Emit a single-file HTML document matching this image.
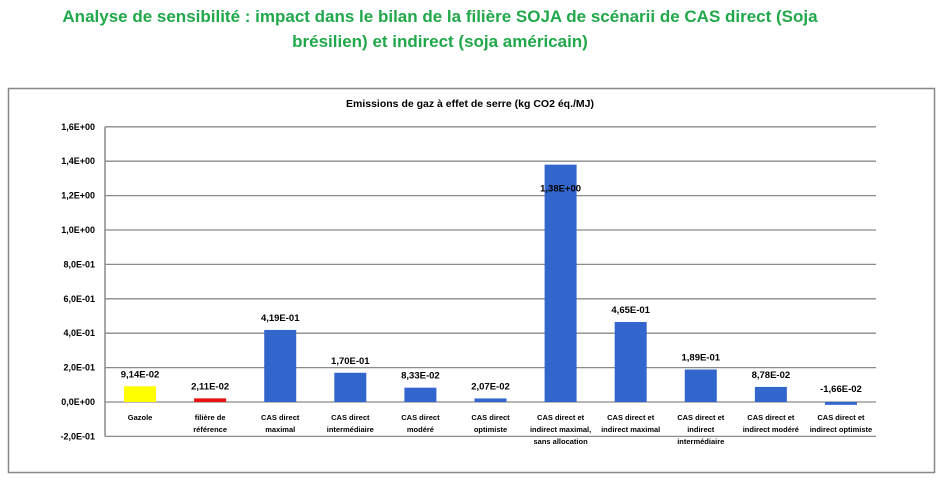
<!DOCTYPE html>
<html><head><meta charset="utf-8"><style>
body{margin:0;background:#fff;width:946px;height:486px;overflow:hidden;font-family:"Liberation Sans",sans-serif}
h1{position:absolute;left:0;top:4px;width:880px;margin:0;text-align:center;color:#21a84a;font-size:17px;font-weight:bold;line-height:25px}
</style></head><body>
<h1>Analyse de sensibilité : impact dans le bilan de la filière SOJA de scénarii de CAS direct (Soja<br>brésilien) et indirect (soja américain)</h1>
<svg id="c" width="946" height="486" style="position:absolute;left:0;top:0"></svg>
<script>
const categories=[["Gazole"],["filière de","référence"],["CAS direct","maximal"],["CAS direct","intermédiaire"],["CAS direct","modéré"],["CAS direct","optimiste"],["CAS direct et","indirect maximal,","sans allocation"],["CAS direct et","indirect maximal"],["CAS direct et","indirect","intermédiaire"],["CAS direct et","indirect modéré"],["CAS direct et","indirect optimiste"]];
const values=[0.0914,0.0211,0.419,0.170,0.0833,0.0207,1.38,0.465,0.189,0.0878,-0.0166];
const valueLabels=["9,14E-02","2,11E-02","4,19E-01","1,70E-01","8,33E-02","2,07E-02","1,38E+00","4,65E-01","1,89E-01","8,78E-02","-1,66E-02"];
const colors=["#ffff00","#e81010","#3366cc","#3366cc","#3366cc","#3366cc","#3366cc","#3366cc","#3366cc","#3366cc","#3366cc"];
const ticks=[-0.2,0,0.2,0.4,0.6,0.8,1.0,1.2,1.4,1.6];
const tickLabels=["-2,0E-01","0,0E+00","2,0E-01","4,0E-01","6,0E-01","8,0E-01","1,0E+00","1,2E+00","1,4E+00","1,6E+00"];
const svg=document.getElementById('c');const NS="http://www.w3.org/2000/svg";
const L=105,R=876,Y0=402,PX=172;
const y=v=>Y0-v*PX;const bw=(R-L)/categories.length;const x=i=>L+bw*(i+0.5);
function mk(t,a,p){const e=document.createElementNS(NS,t);for(const k in a)e.setAttribute(k,a[k]);(p||svg).appendChild(e);return e;}
const frame=mk('rect',{x:8.5,y:88.5,width:926,height:384,fill:'none',stroke:'#888','stroke-width':1.5});


const tt=mk('text',{x:470,y:107,'text-anchor':'middle','font-size':10.5,'font-weight':'bold',fill:'#000'});tt.textContent="Emissions de gaz à effet de serre (kg CO2 éq./MJ)";


ticks.forEach((t,i)=>{const g=mk('line',{x1:L,x2:R,y1:y(t),y2:y(t),stroke:'#8a8a8a','stroke-width':1.3});


const tl=mk('text',{x:95,y:y(t)+3,'text-anchor':'end','font-size':9,'font-weight':'bold',fill:'#000'});tl.textContent=tickLabels[i];

});
const ax=mk('line',{x1:L,x2:L,y1:y(1.6),y2:y(-0.2),stroke:'#8a8a8a','stroke-width':1.5});


values.forEach((v,i)=>{const top=Math.min(y(v),y(0)),h=Math.abs(y(v)-y(0));
const b=mk('rect',{x:x(i)-16,y:top,width:32,height:Math.max(h,1),fill:colors[i]});


let ly=v>=0?y(v)-9:y(0)-10; if(v>1.2) ly=y(v)+27;
const vl=mk('text',{x:x(i),y:ly,'text-anchor':'middle','font-size':9.5,'font-weight':'bold',fill:'#000'});vl.textContent=valueLabels[i];


categories[i].forEach((s,j)=>{const c=mk('text',{x:x(i),y:420+j*12,'text-anchor':'middle','font-size':7.5,'font-weight':'bold',fill:'#000'});c.textContent=s;

});});
</script>
</body></html>
